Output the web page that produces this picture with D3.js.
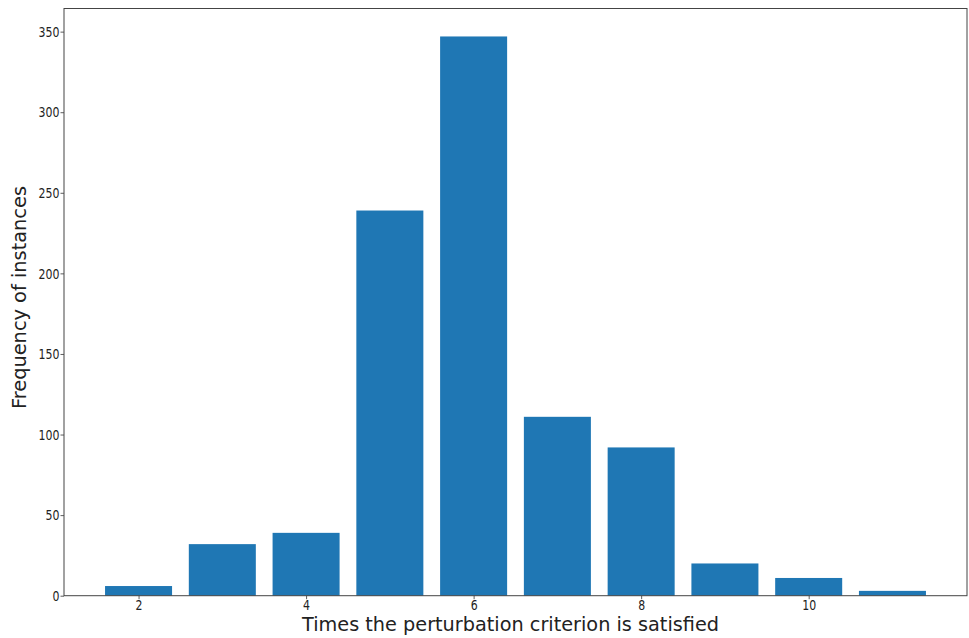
<!DOCTYPE html>
<html><head><meta charset="utf-8">
<script src="https://cdn.jsdelivr.net/npm/d3@7"></script>
<style>body{margin:0;background:#fff}svg{display:block}</style>
</head><body><svg id="c" width="969" height="638"></svg>
<script>
const categories = [2, 3, 4, 5, 6, 7, 8, 9, 10, 11];
const values = [6, 32, 39, 239, 347, 111, 92, 20, 11, 3];
const xTicks = [2, 4, 6, 8, 10];
const yTicks = [0, 50, 100, 150, 200, 250, 300, 350];
const xLabel = "Times the perturbation criterion is satisfied";
const yLabel = "Frequency of instances";

const svg = d3.select("#c");
const L = 64, R = 967, T = 8.5, B = 595.7;
const barW = 0.8;
const xmin = d3.min(categories) - barW/2, xmax = d3.max(categories) + barW/2;
const xm = (xmax - xmin) * 0.05;
const x = d3.scaleLinear().domain([xmin - xm, xmax + xm]).range([L, R]);
const y = d3.scaleLinear().domain([0, d3.max(values) * 1.05]).range([B, T]);

svg.append("g").selectAll("rect").data(categories).join("rect")
  .attr("x", (d) => x(d - barW/2))
  .attr("width", (d) => x(d + barW/2) - x(d - barW/2))
  .attr("y", (d, i) => y(values[i]))
  .attr("height", (d, i) => B - y(values[i]))
  .attr("fill", "#1f77b4");

const font = "DejaVu Sans, sans-serif";
const xa = svg.append("g").attr("transform", `translate(0,${B})`)
  .call(d3.axisBottom(x).tickValues(xTicks).tickSize(3.5).tickPadding(0).tickFormat(d3.format("d")));
const ya = svg.append("g").attr("transform", `translate(${L},0)`)
  .call(d3.axisLeft(y).tickValues(yTicks).tickSize(3.5).tickPadding(1).tickFormat(d3.format("d")));
[xa, ya].forEach(a => {
  a.select(".domain").remove();
  a.selectAll("line").attr("stroke", "#333").attr("stroke-width", 0.8);
  a.selectAll("text").attr("font-family", font).attr("font-size", 14.6).attr("fill", "#222")
    .each(function() {
      const w = this.getComputedTextLength();
      d3.select(this).attr("textLength", w * 0.75).attr("lengthAdjust", "spacingAndGlyphs");
    });
});

svg.append("rect").attr("x", L).attr("y", T).attr("width", R - L).attr("height", B - T)
  .attr("fill", "none").attr("stroke", "#444").attr("stroke-width", 1);

svg.append("text").attr("x", 510.5).attr("y", 631).attr("text-anchor", "middle")
  .attr("font-family", font).attr("font-size", 18.6).attr("fill", "#222")
  .attr("textLength", 417).attr("lengthAdjust", "spacingAndGlyphs").text(xLabel);
svg.append("text").attr("transform", `translate(26,297.5) rotate(-90)`).attr("text-anchor", "middle")
  .attr("font-family", font).attr("font-size", 18.6).attr("fill", "#222")
  .attr("textLength", 223).attr("lengthAdjust", "spacingAndGlyphs").text(yLabel);
</script></body></html>
